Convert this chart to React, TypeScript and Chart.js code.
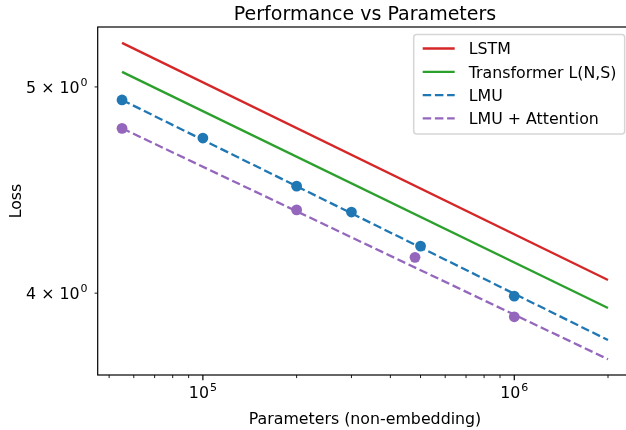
import React, { useEffect, useRef } from "react";
import { Chart, registerables } from "chart.js";

Chart.register(...registerables);

// ---------- text ----------
const chartTitle = "Performance vs Parameters";
const xAxisTitle = "Parameters (non-embedding)";
const yAxisTitle = "Loss";

// ---------- fitted power-law lines (endpoints) ----------
const lineParams = [55000, 2000000];
const lstmLoss = [5.244, 4.057];
const transformerLoss = [5.082, 3.936];
const lmuFitLoss = [4.93, 3.802];
const lmuAttnFitLoss = [4.781, 3.724];

// ---------- measured points ----------
const lmuParams = [55000, 100000, 200000, 300000, 500000, 1000000];
const lmuLoss = [4.93, 4.731, 4.491, 4.367, 4.209, 3.987];
const lmuAttnParams = [55000, 200000, 480000, 1000000];
const lmuAttnLoss = [4.781, 4.377, 4.158, 3.899];

// ---------- axes ----------
const xLimits = [45946, 2393400];
const yLimits = [3.661, 5.335];
const xMajorTicks = [100000, 1000000];
const xMajorBase = ["10", "10"];
const xMajorExp = ["5", "6"];
const xMinorTicks = [
  50000, 60000, 70000, 80000, 90000,
  200000, 300000, 400000, 500000, 600000, 700000, 800000, 900000,
  2000000,
];
const yTicks = [4, 5];
const yTickBase = ["4 \u00d7 10", "5 \u00d7 10"];
const yTickExp = ["0", "0"];

// ---------- legend ----------
const legendLabels = ["LSTM", "Transformer L(N,S)", "LMU", "LMU + Attention"];
const colors = ["#d62728", "#2ca02c", "#1f77b4", "#9467bd"];

const FONT = '"DejaVu Sans", sans-serif';
const CANVAS_W = 640;
const CANVAS_H = 430;

function pts(xs: number[], ys: number[]) {
  return xs.map((x, i) => ({ x, y: ys[i] }));
}

export default function App() {
  const ref = useRef<HTMLCanvasElement>(null);

  useEffect(() => {
    document.body.style.margin = "0";
    const canvas = ref.current!;
    const LW = 2.3;
    const DASH = [8.5, 3.7];

    const lineDs = (label: string, ys: number[], color: string, dash: number[]) => ({
      label,
      data: pts(lineParams, ys),
      borderColor: color,
      backgroundColor: color,
      borderWidth: LW,
      borderDash: dash,
      pointRadius: 0,
      pointHoverRadius: 0,
      showLine: true,
      fill: false,
      tension: 0,
      order: 1,
    });
    const scatterDs = (label: string, xs: number[], ys: number[], color: string) => ({
      label,
      data: pts(xs, ys),
      borderColor: color,
      backgroundColor: color,
      borderWidth: 0,
      pointRadius: 5.4,
      pointHoverRadius: 5.4,
      showLine: false,
      order: 0,
    });

    const decor = {
      id: "decor",
      afterDatasetsDraw(chart: any) {
        const { ctx, chartArea: a, scales } = chart;
        const xs = scales.x;
        const ys = scales.y;
        ctx.save();
        // spines
        ctx.strokeStyle = "#000";
        ctx.lineWidth = 1.2;
        ctx.strokeRect(a.left, a.top, a.right - a.left, a.bottom - a.top);

        // x ticks
        ctx.lineWidth = 1.2;
        for (const v of xMajorTicks) {
          const px = xs.getPixelForValue(v);
          ctx.beginPath();
          ctx.moveTo(px, a.bottom);
          ctx.lineTo(px, a.bottom + 5.3);
          ctx.stroke();
        }
        ctx.lineWidth = 0.9;
        for (const v of xMinorTicks) {
          const px = xs.getPixelForValue(v);
          ctx.beginPath();
          ctx.moveTo(px, a.bottom);
          ctx.lineTo(px, a.bottom + 3.1);
          ctx.stroke();
        }
        for (const v of yTicks) {
          const py = ys.getPixelForValue(v);
          ctx.beginPath();
          ctx.moveTo(a.left, py);
          ctx.lineTo(a.left - 3.1, py);
          ctx.stroke();
        }

        // tick labels
        ctx.fillStyle = "#000";
        ctx.textBaseline = "alphabetic";
        const baseF = "15.8px " + FONT;
        const supF = "11px " + FONT;
        xMajorTicks.forEach((v, i) => {
          const px = xs.getPixelForValue(v);
          ctx.font = baseF;
          const bw = ctx.measureText(xMajorBase[i]).width;
          ctx.font = supF;
          const sw = ctx.measureText(xMajorExp[i]).width;
          const total = bw + 1 + sw;
          const x0 = px - total / 2;
          const base = a.bottom + 23;
          ctx.textAlign = "left";
          ctx.font = baseF;
          ctx.fillText(xMajorBase[i], x0, base);
          ctx.font = supF;
          ctx.fillText(xMajorExp[i], x0 + bw + 1, base - 7);
        });
        yTicks.forEach((v, i) => {
          const py = ys.getPixelForValue(v);
          ctx.font = baseF;
          const bw = ctx.measureText(yTickBase[i]).width;
          ctx.font = supF;
          const sw = ctx.measureText(yTickExp[i]).width;
          const right = a.left - 10.2;
          const x0 = right - sw - 1 - bw;
          const base = py + 5.7;
          ctx.textAlign = "left";
          ctx.font = baseF;
          ctx.fillText(yTickBase[i], x0, base);
          ctx.font = supF;
          ctx.fillText(yTickExp[i], x0 + bw + 1, base - 7);
        });

        // titles
        const cx = (a.left + a.right) / 2;
        ctx.textAlign = "center";
        ctx.font = "19px " + FONT;
        ctx.fillText(chartTitle, cx, a.top - 7.5);
        ctx.font = baseF;
        ctx.fillText(xAxisTitle, cx, a.bottom + 48.5);
        ctx.save();
        ctx.translate(21, (a.top + a.bottom) / 2);
        ctx.rotate(-Math.PI / 2);
        ctx.fillText(yAxisTitle, 0, 0);
        ctx.restore();

        // legend
        const lx = a.right - 7.6 - 211;
        const ly = a.top + 7.6;
        const lw = 211;
        const lh = 99.5;
        const r = 3;
        ctx.beginPath();
        ctx.moveTo(lx + r, ly);
        ctx.lineTo(lx + lw - r, ly);
        ctx.quadraticCurveTo(lx + lw, ly, lx + lw, ly + r);
        ctx.lineTo(lx + lw, ly + lh - r);
        ctx.quadraticCurveTo(lx + lw, ly + lh, lx + lw - r, ly + lh);
        ctx.lineTo(lx + r, ly + lh);
        ctx.quadraticCurveTo(lx, ly + lh, lx, ly + lh - r);
        ctx.lineTo(lx, ly + r);
        ctx.quadraticCurveTo(lx, ly, lx + r, ly);
        ctx.closePath();
        ctx.fillStyle = "rgba(255,255,255,0.8)";
        ctx.fill();
        ctx.strokeStyle = "rgba(204,204,204,0.8)";
        ctx.lineWidth = 1.5;
        ctx.stroke();

        const dsets = chart.data.datasets;
        for (let i = 0; i < legendLabels.length; i++) {
          const ds = dsets[i];
          const y = ly + 13.9 + i * 23.3;
          ctx.strokeStyle = ds.borderColor;
          ctx.lineWidth = LW;
          ctx.setLineDash(ds.borderDash || []);
          ctx.beginPath();
          ctx.moveTo(lx + 9, y);
          ctx.lineTo(lx + 41, y);
          ctx.stroke();
          ctx.setLineDash([]);
          ctx.fillStyle = "#000";
          ctx.textAlign = "left";
          ctx.font = baseF;
          ctx.fillText(ds.label, lx + 55, y + 5.7);
        }
        ctx.restore();
      },
    };

    const chart = new Chart(canvas, {
      type: "line",
      data: {
        datasets: [
          lineDs(legendLabels[0], lstmLoss, colors[0], []),
          lineDs(legendLabels[1], transformerLoss, colors[1], []),
          lineDs(legendLabels[2], lmuFitLoss, colors[2], DASH),
          lineDs(legendLabels[3], lmuAttnFitLoss, colors[3], DASH),
          scatterDs("LMU points", lmuParams, lmuLoss, colors[2]),
          scatterDs("LMU + Attention points", lmuAttnParams, lmuAttnLoss, colors[3]),
        ] as any,
      },
      options: {
        animation: false,
        responsive: false,
        maintainAspectRatio: false,
        devicePixelRatio: 1,
        layout: {
          padding: {
            left: 97.7,
            top: 27,
            right: CANVAS_W - 632.3,
            bottom: CANVAS_H - 375,
          },
        },
        plugins: {
          legend: { display: false },
          title: { display: false },
          tooltip: { enabled: false },
        },
        scales: {
          x: {
            type: "logarithmic",
            display: false,
            min: xLimits[0],
            max: xLimits[1],
          },
          y: {
            type: "logarithmic",
            display: false,
            min: yLimits[0],
            max: yLimits[1],
          },
        },
      } as any,
      plugins: [decor],
    });
    return () => chart.destroy();
  }, []);

  return (
    <div
      style={{
        position: "fixed",
        left: 0,
        top: 0,
        width: 626,
        height: 430,
        overflow: "hidden",
        background: "#fff",
      }}
    >
      <canvas ref={ref} width={CANVAS_W} height={CANVAS_H} style={{ display: "block" }} />
    </div>
  );
}
